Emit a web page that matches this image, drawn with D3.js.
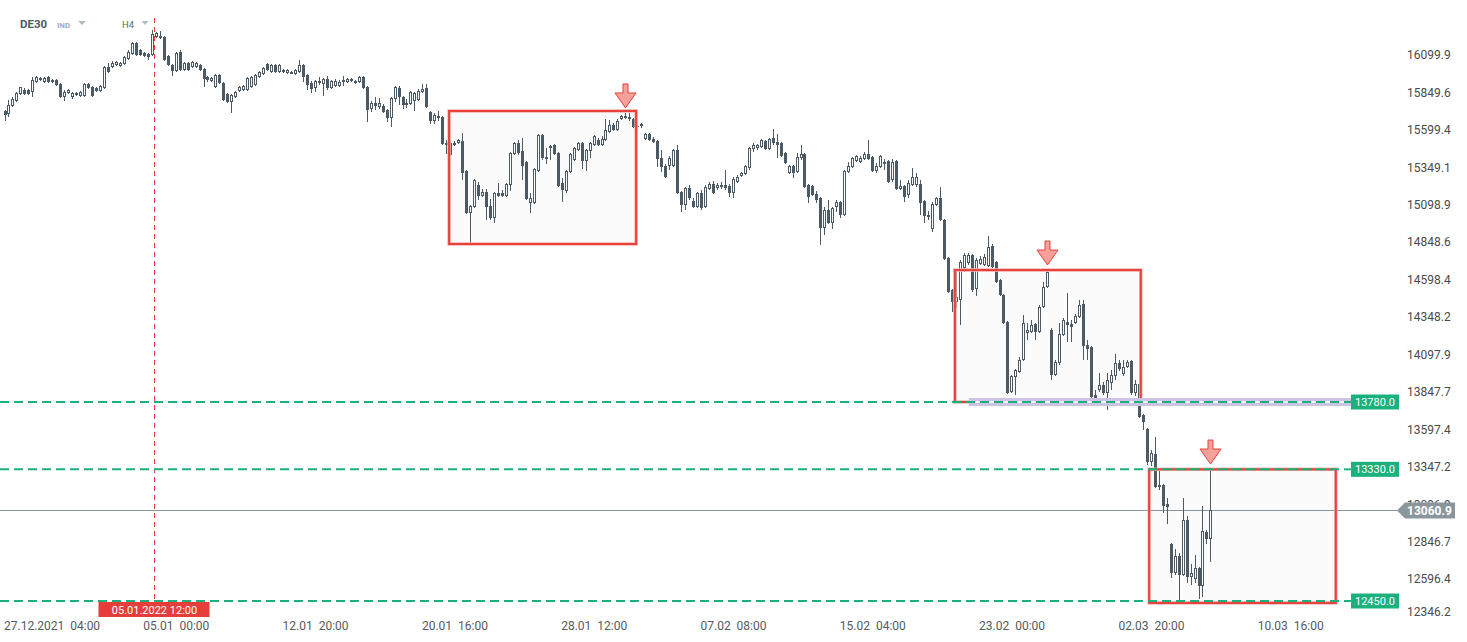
<!DOCTYPE html>
<html><head><meta charset="utf-8">
<script src="https://cdn.jsdelivr.net/npm/d3@7"></script>
<style>
html,body{margin:0;padding:0;background:#fff;}
svg{display:block;font-family:Roboto,"Open Sans",sans-serif;}
.xt text{white-space:pre;}
</style></head><body>
<svg id="chart" width="1467" height="642"></svg>
<script>
// ---------- data ----------
const symbol = "DE30", symbolType = "IND", interval = "H4";
const open = [
15725,15705,15758,15792,15839,15865,15865,15852,15919,15945,
15919,15952,15919,15932,15905,15819,15845,15819,15845,15825,
15825,15905,15885,15879,15859,15879,16019,16019,16032,16026,
16039,16073,16106,16179,16133,16113,16106,16099,16220,16226,
16220,16093,16032,15992,16119,15999,16046,16019,16019,16032,
16006,15952,15925,15885,15966,15912,15839,15785,15819,15859,
15865,15865,15885,15899,15952,15972,16039,15986,16032,15986,
15986,15979,15979,15972,15986,16032,15966,15912,15879,15925,
15905,15939,15879,15892,15892,15932,15919,15925,15925,15919,
15952,15885,15738,15778,15752,15758,15732,15678,15805,15879,
15819,15765,15772,15792,15798,15852,15879,15718,15658,15678,
15685,15504,15511,15498,15511,15524,15324,15043,15083,15230,
15157,15184,15090,15010,15177,15177,15157,15230,15438,15511,
15458,15384,15110,15110,15324,15564,15418,15478,15498,15444,
15244,15190,15317,15397,15464,15511,15391,15458,15498,15531,
15498,15531,15585,15631,15598,15671,15692,15685,15671,15625,
15625,15538,15571,15538,15524,15411,15357,15357,15357,15464,
15184,15096,15210,15123,15083,15177,15083,15204,15237,15210,
15217,15230,15224,15177,15250,15290,15304,15344,15471,15478,
15484,15524,15471,15544,15518,15511,15444,15311,15357,15317,
15411,15438,15230,15224,15170,15143,14943,15063,14976,15083,
15117,15030,15317,15351,15391,15384,15404,15438,15418,15324,
15351,15371,15391,15264,15391,15204,15224,15163,15230,15230,
15237,15123,15016,14936,15096,15143,14996,14742,14529,14448,
14462,14676,14709,14762,14535,14702,14696,14689,14823,14716,
14595,14495,14315,13847,13947,13980,14061,14241,14248,14301,
14248,14415,14549,14261,13960,14041,14228,14315,14301,14308,
14348,14435,14161,14148,13827,13860,13894,13840,13907,13954,
14041,13967,14014,14054,13840,13900,13693,13600,13379,13432,
13212,13225,13098,12831,12637,12751,12624,12991,12610,12597,
12671,12550,12911,12864
];
const high = [
15732,15798,15819,15852,15887,15879,15872,15952,15959,15952,
15952,15959,15939,15939,15912,15865,15872,15852,15852,15859,
15912,15912,15892,15885,15899,16026,16046,16059,16059,16052,
16093,16133,16186,16186,16139,16119,16113,16266,16253,16260,
16226,16099,16039,16119,16133,16052,16052,16059,16052,16039,
16012,15959,15952,15972,15972,15919,15845,15839,15859,15892,
15899,15952,15959,15972,15992,16019,16046,16039,16039,16039,
16006,16006,15992,16006,16066,16039,15972,15925,15932,15952,
15945,15959,15932,15939,15932,15959,15945,15945,15932,15959,
15959,15892,15792,15819,15812,15772,15738,15819,15892,15892,
15825,15805,15859,15852,15872,15905,15905,15725,15712,15725,
15692,15531,15531,15524,15538,15578,15331,15096,15271,15250,
15204,15204,15137,15184,15244,15197,15244,15451,15518,15531,
15544,15391,15177,15344,15571,15571,15478,15498,15504,15451,
15277,15331,15444,15484,15518,15518,15471,15518,15564,15544,
15558,15671,15665,15645,15671,15698,15712,15712,15678,15638,
15645,15578,15578,15551,15531,15464,15371,15425,15471,15498,
15190,15217,15230,15143,15184,15197,15230,15250,15257,15244,
15250,15331,15237,15284,15297,15317,15364,15484,15511,15504,
15538,15531,15544,15605,15571,15518,15451,15364,15364,15444,
15498,15444,15237,15230,15190,15150,15083,15130,15083,15130,
15123,15331,15384,15418,15431,15425,15451,15531,15425,15377,
15431,15404,15397,15404,15397,15264,15230,15264,15344,15311,
15264,15130,15057,15117,15150,15217,15003,14749,14535,14662,
14729,14776,14776,14769,14742,14756,14769,14889,14836,14722,
14602,14502,14321,13960,14001,14081,14361,14308,14328,14308,
14428,14582,14662,14275,14061,14308,14341,14508,14328,14368,
14462,14462,14194,14154,13860,13974,13914,13974,13994,14101,
14061,14061,14061,14061,13927,13907,13700,13606,13459,13546,
13325,13232,13138,12838,12798,12771,13138,13018,12697,12758,
12677,13085,12924,13332
];
const low = [
15658,15685,15752,15785,15832,15832,15832,15819,15912,15925,
15912,15912,15912,15892,15812,15792,15839,15805,15825,15819,
15819,15872,15819,15852,15852,15872,15979,16012,16026,16019,
16032,16066,16099,16093,16093,16086,16066,16093,16213,16206,
16059,16026,15959,15986,15992,15992,15992,16012,16012,15992,
15885,15919,15919,15879,15905,15792,15778,15712,15812,15852,
15859,15859,15879,15892,15945,15966,15992,15979,15979,15979,
15979,15972,15972,15966,15979,15919,15865,15845,15852,15899,
15825,15865,15872,15885,15885,15892,15912,15919,15905,15912,
15872,15651,15718,15732,15738,15712,15651,15618,15785,15765,
15738,15745,15765,15725,15792,15845,15745,15638,15638,15658,
15498,15438,15425,15491,15504,15264,15036,14829,15077,15130,
15150,14996,14996,14976,15150,15150,15150,15190,15431,15431,
15264,15130,15043,15103,15317,15397,15371,15397,15431,15217,
15117,15177,15311,15391,15458,15337,15324,15411,15491,15491,
15491,15524,15578,15591,15591,15665,15671,15658,15611,15605,
15611,15531,15524,15511,15351,15317,15277,15331,15351,15170,
15050,15063,15130,15077,15077,15063,15077,15197,15170,15197,
15204,15197,15150,15143,15244,15284,15297,15331,15451,15464,
15478,15464,15464,15498,15411,15418,15371,15304,15277,15311,
15397,15210,15110,15157,15110,14829,14896,14970,14936,15050,
15010,15023,15311,15344,15384,15377,15397,15397,15317,15311,
15344,15331,15244,15250,15197,15197,15117,15143,15224,15217,
15030,14976,14996,14916,15090,14990,14729,14508,14381,14408,
14295,14649,14696,14515,14488,14696,14689,14682,14676,14575,
14488,14301,13834,13840,13827,13974,14054,14194,14241,14194,
14241,14408,14542,13927,13954,14027,14221,14181,14181,14301,
14341,14061,14061,13807,13787,13847,13827,13727,13860,13927,
13987,13954,14007,13827,13820,13673,13593,13358,13352,13205,
13192,13038,12964,12604,12624,12430,12617,12570,12557,12570,
12463,12477,12831,12711
];
const close = [
15698,15765,15805,15845,15885,15839,15839,15932,15952,15932,
15945,15919,15932,15899,15819,15852,15865,15845,15832,15852,
15905,15879,15825,15859,15892,16019,15986,16046,16052,16046,
16086,16119,16179,16099,16099,16093,16086,16240,16246,16213,
16066,16032,15992,16113,15999,16046,15999,16052,16046,15999,
15939,15932,15945,15966,15912,15798,15785,15832,15852,15885,
15892,15945,15952,15966,15986,16012,15999,16032,15986,16032,
15999,15999,15986,15999,16032,15952,15899,15872,15925,15912,
15939,15879,15925,15925,15919,15919,15939,15939,15912,15952,
15879,15732,15778,15758,15778,15718,15678,15812,15885,15819,
15765,15778,15852,15845,15859,15872,15752,15658,15698,15692,
15504,15511,15431,15511,15531,15311,15043,15090,15264,15157,
15184,15083,15010,15177,15157,15157,15237,15444,15511,15444,
15357,15137,15143,15337,15564,15411,15404,15491,15438,15224,
15197,15324,15438,15478,15511,15391,15464,15511,15558,15498,
15538,15598,15631,15598,15658,15692,15678,15671,15618,15618,
15638,15571,15531,15518,15404,15351,15284,15411,15464,15177,
15096,15210,15143,15083,15177,15077,15217,15237,15177,15230,
15230,15210,15177,15271,15284,15311,15357,15478,15498,15498,
15531,15471,15538,15511,15498,15424,15377,15357,15311,15418,
15438,15217,15150,15163,15130,14943,15063,14976,15077,15117,
15030,15324,15357,15411,15425,15411,15438,15404,15324,15357,
15425,15384,15250,15384,15204,15224,15150,15244,15284,15284,
15110,15023,15030,15103,15143,14996,14736,14515,14448,14482,
14716,14762,14762,14529,14729,14736,14749,14816,14682,14582,
14495,14308,13840,13954,13994,14061,14308,14261,14295,14248,
14415,14549,14649,13960,14047,14234,14328,14295,14281,14355,
14428,14154,14134,13814,13793,13894,13840,13927,13960,14041,
14001,14014,14047,13840,13900,13680,13646,13379,13439,13212,
13225,13085,13078,12637,12751,12624,12991,12610,12637,12671,
12550,12918,12864,13061
];
const xTickIndex = [0, 35, 70, 105, 140, 175, 210, 245, 280, 315];
const xTickLabels = ["27.12.2021  04:00","05.01  00:00","12.01  20:00","20.01  16:00","28.01  12:00",
                     "07.02  08:00","15.02  04:00","23.02  00:00","02.03  20:00","10.03  16:00"];
const yTicks = [16099.9,15849.6,15599.4,15349.1,15098.9,14848.6,14598.4,14348.2,14097.9,
                13847.7,13597.4,13347.2,13096.9,12846.7,12596.4,12346.2];
const levels = [13780, 13330, 12450];
const currentPrice = 13060.9;
const boxFrom = [111.7, 238.8, 287.6];
const boxTo = [158.7, 285.5, 334.5];
const boxTop = [15725, 14662, 13330];
const boxBottom = [14836, 13780, 12437];
const arrowIndex = [156, 262, 303];
const bandLevel = 13780, bandFromIndex = 242.3;
const markerIndex = 37.5, markerLabel = "05.01.2022 12:00";

// ---------- drawing ----------
const W = 1467, H = 642, plotRight = 1397, lineRight = 1344;
const svg = d3.select("#chart");
const x = d3.scaleLinear().domain([0, 350]).range([4.5, 4.5 + 350 * 3.98]);
const y = d3.scaleLinear().domain([12176, 16466.8]).range([642, 0]);
const data = close.map((c, i) => ({i, o: open[i], h: high[i], l: low[i], c}));
const CANDLE = "#4b5a65", RED = "#e8413c", GREEN = "#1ab17c";

// box fills
const boxes = boxFrom.map((f, k) => ({f, t: boxTo[k], top: boxTop[k], bot: boxBottom[k]}));
svg.append("g").selectAll("rect").data(boxes).join("rect")
  .attr("x", d => x(d.f)).attr("y", d => y(d.top))
  .attr("width", d => x(d.t) - x(d.f)).attr("height", d => y(d.bot) - y(d.top))
  .attr("fill", "#fbfbfb");

// current price line
svg.append("line").attr("x1", 0).attr("x2", plotRight)
  .attr("y1", Math.round(y(currentPrice)) + 0.5).attr("y2", Math.round(y(currentPrice)) + 0.5)
  .attr("stroke", "#8a949b").attr("stroke-width", 1);

// marker vertical dashed line
const mx = Math.round(x(markerIndex)) + 0.5;
svg.append("line").attr("x1", mx).attr("x2", mx).attr("y1", 18).attr("y2", 602)
  .attr("stroke", RED).attr("stroke-width", 1).attr("stroke-dasharray", "5,4");

// candles
const cg = svg.append("g");
data.forEach(d => {
  const cx = Math.round(x(d.i));
  cg.append("line").attr("x1", cx + 0.5).attr("x2", cx + 0.5)
    .attr("y1", Math.round(y(d.h))).attr("y2", Math.round(y(d.l)))
    .attr("stroke", CANDLE).attr("stroke-width", 1);
  const top = Math.round(y(Math.max(d.o, d.c))), bot = Math.round(y(Math.min(d.o, d.c)));
  if (d.c >= d.o) {
    cg.append("rect").attr("x", cx - 0.5).attr("y", top + 0.5)
      .attr("width", 2).attr("height", Math.max(bot - top - 1, 1))
      .attr("fill", "#fff").attr("stroke", CANDLE).attr("stroke-width", 1);
  } else {
    cg.append("rect").attr("x", cx - 1).attr("y", top)
      .attr("width", 3).attr("height", Math.max(bot - top, 1))
      .attr("fill", CANDLE);
  }
});

// box strokes
const bs = svg.append("g");
bs.selectAll("rect.halo").data(boxes).join("rect").attr("class", "halo")
  .attr("x", d => x(d.f)).attr("y", d => y(d.top))
  .attr("width", d => x(d.t) - x(d.f)).attr("height", d => y(d.bot) - y(d.top))
  .attr("fill", "none").attr("stroke", "#f6b3b0").attr("stroke-width", 3.5);
bs.selectAll("rect.edge").data(boxes).join("rect").attr("class", "edge")
  .attr("x", d => x(d.f)).attr("y", d => y(d.top))
  .attr("width", d => x(d.t) - x(d.f)).attr("height", d => y(d.bot) - y(d.top))
  .attr("fill", "none").attr("stroke", RED).attr("stroke-width", 2);

// lavender band
const by = y(bandLevel);
svg.append("rect").attr("x", x(bandFromIndex)).attr("y", by - 4)
  .attr("width", 1351 - x(bandFromIndex)).attr("height", 8).attr("fill", "#cdc2e4");
svg.append("line").attr("x1", x(bandFromIndex)).attr("x2", 1351).attr("y1", by).attr("y2", by)
  .attr("stroke", "#ffffff").attr("stroke-width", 2);

// green level lines
const lg = svg.append("g");
levels.forEach(v => {
  const ly = y(v);
  lg.append("line").attr("x1", 0).attr("x2", lineRight).attr("y1", ly).attr("y2", ly)
    .attr("stroke", GREEN).attr("stroke-width", 2).attr("stroke-dasharray", "9,5");
  lg.append("line").attr("x1", lineRight).attr("x2", 1352).attr("y1", ly).attr("y2", ly)
    .attr("stroke", GREEN).attr("stroke-width", 2);
  lg.append("rect").attr("x", 1351).attr("y", ly - 7.5).attr("width", 48).attr("height", 15)
    .attr("fill", GREEN);
  lg.append("text").attr("x", 1375).attr("y", ly + 4).attr("text-anchor", "middle")
    .attr("fill", "#fff").attr("font-size", 11).text(v.toFixed(1));
});

// arrows
const ag = svg.append("g");
arrowIndex.forEach(i => {
  const tx = Math.round(x(i)) + 0.5, ty = y(high[i]) - 5;
  const p = `M${tx-2.5},${ty-24} L${tx+2.5},${ty-24} L${tx+2.5},${ty-15} L${tx+10.5},${ty-15} L${tx},${ty} L${tx-10.5},${ty-15} L${tx-2.5},${ty-15} Z`;
  ag.append("path").attr("d", p).attr("fill", "#f5a09a").attr("stroke", RED).attr("stroke-width", 1);
});

// y axis
const yAxis = d3.axisRight(y).tickValues(yTicks).tickSize(0).tickPadding(0)
  .tickFormat(d => d.toFixed(1));
const yg = svg.append("g").attr("transform", "translate(1407,0)").call(yAxis);
yg.select(".domain").remove();
yg.selectAll("text").attr("font-size", 12).attr("fill", "#4a4a4a")
  .attr("font-family", "Roboto, sans-serif")
  .attr("dy", d => d < 12400 ? "-0.05em" : "0.32em");

// current price label (covers the tick label beneath it, as in the original)
const cy = Math.round(y(currentPrice)) + 0.5;
svg.append("path")
  .attr("d", `M1397,${cy} L1405,${cy-8} L1455,${cy-8} L1455,${cy+8} L1405,${cy+8} Z`)
  .attr("fill", "#8b959c");
svg.append("text").attr("x", 1407).attr("y", cy + 4.5).attr("fill", "#fff")
  .attr("font-size", 12).attr("font-weight", "bold").text(currentPrice.toFixed(1));

// x axis
const xAxis = d3.axisBottom(x).tickValues(xTickIndex).tickSize(0).tickPadding(0)
  .tickFormat((d, k) => xTickLabels[k]);
const xg = svg.append("g").attr("class", "xt").attr("transform", "translate(0,621)").call(xAxis);
xg.select(".domain").remove();
xg.selectAll("text").attr("text-anchor", "start").attr("x", -1)
  .attr("font-size", 12).attr("fill", "#555b61").attr("font-family", "Roboto, sans-serif");

// marker label
svg.append("rect").attr("x", mx - 56).attr("y", 602).attr("width", 111).attr("height", 15)
  .attr("fill", "#e53e3a");
svg.append("text").attr("x", mx).attr("y", 613.5).attr("text-anchor", "middle")
  .attr("fill", "#fff").attr("font-size", 11).text(markerLabel);

// header
svg.append("text").attr("x", 20).attr("y", 27.5).attr("font-size", 11.5).attr("font-weight", "bold")
  .attr("fill", "#4f5962").text(symbol);
svg.append("text").attr("x", 57).attr("y", 27.5).attr("font-size", 8).attr("font-weight", "bold")
  .attr("fill", "#a3aeb8").text(symbolType);
svg.append("path").attr("d", "M78,21 L86,21 L82,25 Z").attr("fill", "#b5bcc2");
svg.append("text").attr("x", 122).attr("y", 27.5).attr("font-size", 9.5)
  .attr("fill", "#5d6770").text(interval);
svg.append("path").attr("d", "M141.5,21 L148.5,21 L145,25 Z").attr("fill", "#b5bcc2");
</script>
</body></html>
